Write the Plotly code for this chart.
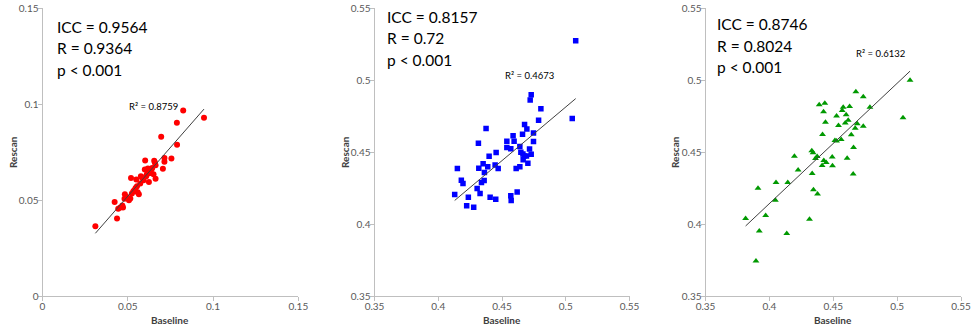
import numpy as np
import plotly.graph_objects as go

W, H = 974, 331

# ---------------- data ----------------
p1_baseline = [0.0310, 0.0437, 0.0423, 0.0444, 0.0456, 0.0468, 0.0472, 0.0483, 0.0481, 0.0495,
               0.0507, 0.0515, 0.0519, 0.0524, 0.0532, 0.0538, 0.0550, 0.0546, 0.0554, 0.0558,
               0.0565, 0.0573, 0.0577, 0.0585, 0.0593, 0.0600, 0.0602, 0.0608, 0.0612, 0.0618,
               0.0624, 0.0628, 0.0635, 0.0639, 0.0643, 0.0651, 0.0655, 0.0659, 0.0663, 0.0663,
               0.0696, 0.0706, 0.0715, 0.0715, 0.0756, 0.0788, 0.0789, 0.0825, 0.0947]
p1_rescan = [0.0365, 0.0405, 0.0490, 0.0455, 0.0462, 0.0472, 0.0462, 0.0531, 0.0507, 0.0517,
             0.0500, 0.0509, 0.0616, 0.0535, 0.0545, 0.0552, 0.0608, 0.0564, 0.0573, 0.0542,
             0.0531, 0.0587, 0.0625, 0.0616, 0.0604, 0.0660, 0.0707, 0.0625, 0.0635, 0.0665,
             0.0595, 0.0642, 0.0642, 0.0661, 0.0668, 0.0635, 0.0705, 0.0696, 0.0682, 0.0611,
             0.0830, 0.0663, 0.0719, 0.0700, 0.0717, 0.0903, 0.0788, 0.0967, 0.0929]

p2_baseline = [0.5078, 0.5051, 0.4729, 0.4721, 0.4805, 0.4787, 0.4375, 0.4677, 0.4695, 0.4661,
               0.4747, 0.4538, 0.4595, 0.4587, 0.4315, 0.4747, 0.4538, 0.4569, 0.4640, 0.4716,
               0.4648, 0.4664, 0.4674, 0.4692, 0.4729, 0.4666, 0.4703, 0.4454, 0.4399, 0.4150,
               0.4318, 0.4352, 0.4388, 0.4446, 0.4470, 0.4362, 0.4611, 0.4640, 0.4181, 0.4194,
               0.4339, 0.4360, 0.4305, 0.4328, 0.4236, 0.4129, 0.4407, 0.4451, 0.4569, 0.4572,
               0.4619, 0.4223, 0.4278]
p2_rescan = [0.5273, 0.4734, 0.4898, 0.4861, 0.4801, 0.4722, 0.4664, 0.4692, 0.4660, 0.4625,
             0.4632, 0.4576, 0.4576, 0.4613, 0.4562, 0.4574, 0.4532, 0.4523, 0.4539, 0.4521,
             0.4500, 0.4488, 0.4474, 0.4474, 0.4486, 0.4447, 0.4423, 0.4497, 0.4472, 0.4386,
             0.4389, 0.4419, 0.4398, 0.4410, 0.4386, 0.4359, 0.4386, 0.4398, 0.4305, 0.4282,
             0.4289, 0.4303, 0.4247, 0.4213, 0.4187, 0.4206, 0.4187, 0.4173, 0.4197, 0.4164,
             0.4224, 0.4129, 0.4118]

p3_baseline = [0.5101, 0.5046, 0.4677, 0.4735, 0.4787, 0.4390, 0.4434, 0.4424, 0.4578, 0.4628,
               0.4570, 0.4526, 0.4601, 0.4617, 0.4594, 0.4439, 0.4541, 0.4688, 0.4735, 0.4672,
               0.4416, 0.4641, 0.4513, 0.4526, 0.4562, 0.4659, 0.4332, 0.4342, 0.4374, 0.4361,
               0.4196, 0.4492, 0.4609, 0.4426, 0.4445, 0.4413, 0.4494, 0.4225, 0.4335, 0.4656,
               0.4052, 0.4144, 0.3911, 0.4345, 0.4377, 0.4047, 0.3971, 0.3814, 0.4314, 0.3921,
               0.4136, 0.3895]
p3_rescan = [0.4999, 0.4738, 0.4919, 0.4884, 0.4812, 0.4828, 0.4840, 0.4780, 0.4812, 0.4817,
             0.4789, 0.4750, 0.4759, 0.4722, 0.4703, 0.4708, 0.4685, 0.4697, 0.4680, 0.4666,
             0.4622, 0.4620, 0.4581, 0.4578, 0.4588, 0.4532, 0.4509, 0.4495, 0.4470, 0.4456,
             0.4472, 0.4467, 0.4458, 0.4442, 0.4428, 0.4407, 0.4405, 0.4377, 0.4352, 0.4349,
             0.4289, 0.4289, 0.4250, 0.4240, 0.4210, 0.4167, 0.4060, 0.4039, 0.4035, 0.3953,
             0.3935, 0.3745]

stats_text = [
    ["ICC = 0.9564", "R = 0.9364", "p < 0.001"],
    ["ICC = 0.8157", "R = 0.72", "p < 0.001"],
    ["ICC = 0.8746", "R = 0.8024", "p < 0.001"],
]
r2_text = ["R² = 0.8759", "R² = 0.4673", "R² = 0.6132"]
x_title = "Baseline"
y_title = "Rescan"

x_ranges = [[0, 0.15], [0.35, 0.55], [0.35, 0.55]]
y_ranges = [[0, 0.15], [0.35, 0.55], [0.35, 0.55]]
tick_vals = [[0, 0.05, 0.1, 0.15], [0.35, 0.4, 0.45, 0.5, 0.55], [0.35, 0.4, 0.45, 0.5, 0.55]]
tick_text = [["0", "0.05", "0.1", "0.15"], ["0.35", "0.4", "0.45", "0.5", "0.55"],
             ["0.35", "0.4", "0.45", "0.5", "0.55"]]

# ---------------- styling ----------------
series = [
    (p1_baseline, p1_rescan, dict(symbol="circle", size=6, color="#FF0000")),
    (p2_baseline, p2_rescan, dict(symbol="square", size=5.5, color="#0000FF")),
    (p3_baseline, p3_rescan, dict(symbol="triangle-up", size=6, color="#009900")),
]
x_domains = [[42.5 / W, 298.3 / W], [374.5 / W, 629.5 / W], [705.5 / W, 961 / W]]
y_domain = [1 - 296.3 / H, 1 - 8 / H]

stat_pos = [(55, 27), (385, 17), (715, 24)]   # left x px, center y px of first line
line_gap = 21.5
r2_pos = [(153, 107), (529, 75), (880, 54)]
xtitle_pos = [(170, 320), (502, 320), (833, 320)]
ytitle_pos = [(13, 152), (345, 152), (675, 152)]

FONT = "Lato, 'Liberation Sans', Arial, sans-serif"

fig = go.Figure()
annotations = []

for i, (xs, ys, mk) in enumerate(series):
    ax = "" if i == 0 else str(i + 1)
    xa, ya = "x" + ax, "y" + ax
    fig.add_trace(go.Scatter(x=xs, y=ys, mode="markers", xaxis=xa, yaxis=ya,
                             marker=dict(symbol=mk["symbol"], size=mk["size"], color=mk["color"],
                                         line=dict(width=0)),
                             showlegend=False, hoverinfo="x+y"))
    # linear trend line computed from the data
    xa_arr = np.array(xs)
    ya_arr = np.array(ys)
    slope, inter = np.polyfit(xa_arr, ya_arr, 1)
    xl = np.array([xa_arr.min(), xa_arr.max()])
    fig.add_trace(go.Scatter(x=xl, y=slope * xl + inter, mode="lines", xaxis=xa, yaxis=ya,
                             line=dict(color="#404040", width=1), showlegend=False,
                             hoverinfo="skip"))

    common = dict(showgrid=False, zeroline=False, showline=True, linecolor="#BFBFBF",
                  linewidth=1, ticks="outside", ticklen=4, tickcolor="#BFBFBF",
                  automargin=False, ticklabelstandoff=-3,
                  tickfont=dict(family=FONT, size=10, color="#595959"))
    fig.update_layout(**{
        "xaxis" + ax: dict(domain=x_domains[i], range=x_ranges[i], tickvals=tick_vals[i],
                           ticktext=tick_text[i], anchor="y" + ax, **common),
        "yaxis" + ax: dict(domain=y_domain, range=y_ranges[i], tickvals=tick_vals[i],
                           ticktext=tick_text[i], anchor="x" + ax, **common),
    })

    sx, sy = stat_pos[i]
    for k, t in enumerate(stats_text[i]):
        annotations.append(dict(text=t, xref="paper", yref="paper", x=sx / W,
                                y=1 - (sy + k * line_gap) / H, xanchor="left", yanchor="middle",
                                showarrow=False,
                                font=dict(family=FONT, size=15.5, color="#000000")))
    rx, ry = r2_pos[i]
    annotations.append(dict(text=r2_text[i], xref="paper", yref="paper", x=rx / W,
                            y=1 - ry / H, xanchor="center", yanchor="middle", showarrow=False,
                            font=dict(family=FONT, size=9.5, color="#000000")))
    tx, ty = xtitle_pos[i]
    annotations.append(dict(text="<b>" + x_title + "</b>", xref="paper", yref="paper",
                            x=tx / W, y=1 - ty / H, xanchor="center", yanchor="middle",
                            showarrow=False, font=dict(family=FONT, size=10, color="#404040")))
    tx, ty = ytitle_pos[i]
    annotations.append(dict(text="<b>" + y_title + "</b>", xref="paper", yref="paper",
                            x=tx / W, y=1 - ty / H, xanchor="center", yanchor="middle",
                            textangle=-90, showarrow=False,
                            font=dict(family=FONT, size=10, color="#404040")))

fig.update_layout(width=W, height=H, margin=dict(l=0, r=0, t=0, b=0),
                  paper_bgcolor="white", plot_bgcolor="white", annotations=annotations)

fig.write_html("out.html", config={"displayModeBar": False},
               post_script="document.body.style.margin='0';")
